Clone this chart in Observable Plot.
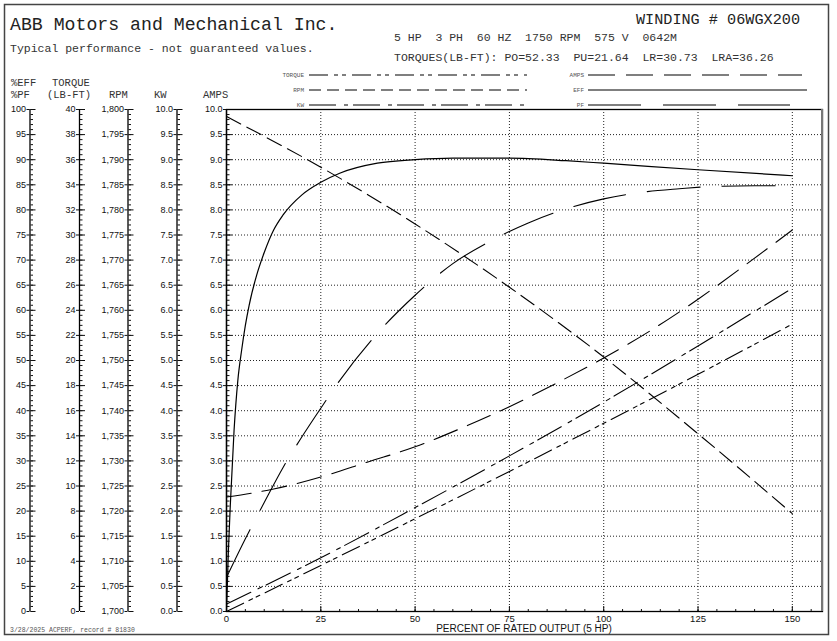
<!DOCTYPE html>
<html><head><meta charset="utf-8">
<script src="https://cdn.jsdelivr.net/npm/d3@7"></script>
<script src="https://cdn.jsdelivr.net/npm/@observablehq/plot@0.6"></script>
<style>
body{margin:0;background:#fff;}
#wrap{position:relative;width:837px;height:641px;overflow:hidden;background:#fff;}
#chart{position:absolute;left:0;top:0;}
#overlay{position:absolute;left:0;top:0;pointer-events:none;}
</style></head><body>
<div id="wrap"><div id="chart"></div><svg id="overlay" width="837" height="641"></svg></div>
<script>
// ---- data ----
const loads = [0, 25, 50, 75, 100, 125, 150];                  // % of rated output
const rpmValues = [1798.6, 1788.5, 1777.2, 1764.6, 1750.7, 1735.4, 1719.5];
const torqueValues = [0, 3.67, 7.39, 11.16, 15.0, 18.9, 22.9];   // LB-FT
const kwValues = [0.15, 1.07, 2.07, 3.1, 4.17, 5.29, 6.44];
const ampsLoads = [0, 12.5, 25, 37.5, 50, 62.5, 75, 87.5, 100, 112.5, 125, 137.5, 150];
const ampsValues = [2.28, 2.44, 2.68, 2.98, 3.28, 3.66, 4.08, 4.55, 5.05, 5.6, 6.22, 6.9, 7.6];
const effLoads = [0, 0.5, 1, 2, 3, 4, 5, 6, 8, 10, 12.5, 15, 20, 25, 30, 40, 50, 60, 75, 90, 100, 125, 150];
const effValues = [0, 12, 21, 36, 46, 52, 57, 61, 67, 71.5, 76, 79, 83, 85.5, 87.3, 89.3, 90, 90.3, 90.3, 89.8, 89.3, 88, 86.8];
const pfLoads = [0, 5, 10, 15, 20, 25, 30, 40, 50, 60, 70, 80, 90, 100, 110, 120, 130, 140, 150];
const pfValues = [6.8, 14.5, 21.7, 28.7, 34.8, 40.5, 46, 55.4, 63, 69.3, 73.8, 77.4, 80.2, 82.2, 83.5, 84.2, 84.7, 84.8, 84.8];

const xTicks = [0, 25, 50, 75, 100, 125, 150];
const titleText = "ABB Motors and Mechanical Inc.";
const subtitleText = "Typical performance - not guaranteed values.";
const windingText = "WINDING # 06WGX200";
const ratingText = "5 HP  3 PH  60 HZ  1750 RPM  575 V  0642M";
const torquesText = "TORQUES(LB-FT): PO=52.33  PU=21.64  LR=30.73  LRA=36.26";
const footerText = "3/28/2025 ACPERF, record # 81830";
const xLabel = "PERCENT OF RATED OUTPUT (5 HP)";
const legendLeft = ["TORQUE", "RPM", "KW"];
const legendRight = ["AMPS", "EFF", "PF"];

// ---- layout ----
const W = 837, H = 641, ML = 226, MR = 15, MT = 109, MB = 30;
const dash = {TORQUE: "19,6,4,4,4,6", RPM: "12,6", KW: "27,8,4,5", AMPS: "27,11", EFF: null, PF: "53,22"};
const plotDash = {...dash, RPM: "16,7", AMPS: "25,11"};

const zip = (xs, ys) => xs.map((x, i) => ({x, v: ys[i]}));
const yMajor = d3.range(0, 10.001, 0.5);
const yMinor = d3.range(0, 101, 1).map(d => d / 10);

function leftAxis(spine, fmt) {
  const dxL = spine - ML, dxR = spine - (W - MR);
  return [
    Plot.ruleX([0], {dx: dxL, stroke: "#000", strokeWidth: 1.3}),
    Plot.axisY({ticks: yMajor, anchor: "left", dx: dxL, tickSize: 3, tickPadding: 1, tickFormat: fmt, label: null, fontSize: 9, color: "#111"}),
    Plot.axisY({ticks: yMajor, anchor: "right", dx: dxR, tickSize: 5, tickFormat: () => "", label: null, color: "#111"}),
    Plot.axisY({ticks: yMinor, anchor: "right", dx: dxR, tickSize: 2.5, tickFormat: () => "", label: null, color: "#111"})
  ];
}
const comma = d3.format(",");

const chart = Plot.plot({
  width: W, height: H,
  marginLeft: ML, marginRight: MR, marginTop: MT, marginBottom: MB,
  style: {fontFamily: "'Liberation Sans', Arial, sans-serif", fontSize: "9px", background: "transparent", overflow: "visible"},
  x: {domain: [0, 158]},
  y: {domain: [0, 10]},
  marks: [
    Plot.gridY({ticks: d3.range(0.5, 10, 0.5), stroke: "#222", strokeOpacity: 1, strokeDasharray: "1,2"}),
    Plot.gridX({ticks: xTicks.slice(1), stroke: "#222", strokeOpacity: 1, strokeDasharray: "1,2"}),
    ...leftAxis(29.5, d => d * 10),
    ...leftAxis(79, d => d * 4),
    ...leftAxis(127.5, d => comma(1700 + d * 10)),
    ...leftAxis(176.5, d => d.toFixed(1)),
    ...leftAxis(ML, d => d.toFixed(1)),
    Plot.axisX({ticks: xTicks, anchor: "bottom", tickSize: 0, tickPadding: 4, label: null, fontSize: 9.5, color: "#111"}),
    Plot.axisX({ticks: d3.range(0, 156, 5), anchor: "top", dy: H - MB - MT, tickSize: 3, tickFormat: () => "", label: null, color: "#111"}),
    Plot.axisX({ticks: xTicks, anchor: "top", dy: H - MB - MT, tickSize: 6, tickFormat: () => "", label: null, color: "#111"}),
    Plot.frame({stroke: "#000", strokeWidth: 1.3}),
    Plot.line(zip(loads, rpmValues), {x: "x", y: d => (d.v - 1700) / 10, stroke: "#000", strokeWidth: 1.1, strokeDasharray: plotDash.RPM, curve: "monotone-x"}),
    Plot.line(zip(loads, torqueValues), {x: "x", y: d => d.v / 4, stroke: "#000", strokeWidth: 1.1, strokeDasharray: plotDash.TORQUE, curve: "monotone-x"}),
    Plot.line(zip(loads, kwValues), {x: "x", y: "v", stroke: "#000", strokeWidth: 1.1, strokeDasharray: plotDash.KW, curve: "monotone-x"}),
    Plot.line(zip(ampsLoads, ampsValues), {x: "x", y: "v", stroke: "#000", strokeWidth: 1.1, strokeDasharray: plotDash.AMPS, curve: "monotone-x"}),
    Plot.line(zip(pfLoads, pfValues), {x: "x", y: d => d.v / 10, stroke: "#000", strokeWidth: 1.1, strokeDasharray: plotDash.PF, curve: "monotone-x"}),
    Plot.line(zip(effLoads, effValues), {x: "x", y: d => d.v / 10, stroke: "#000", strokeWidth: 1.2, curve: "monotone-x"})
  ]
});
document.getElementById("chart").appendChild(chart);

// ---- overlay: titles, headers, legend, border ----
const ov = d3.select("#overlay");
ov.append("rect").attr("x", 4.5).attr("y", 4.5).attr("width", 824).attr("height", 630)
  .attr("fill", "none").attr("stroke", "#444").attr("stroke-width", 1.5);
ov.append("line").attr("x1", ML + (W - ML - MR)).attr("x2", ML + (W - ML - MR)).attr("y1", MT).attr("y2", H - MB)
  .attr("stroke", "#777").attr("stroke-width", 2);
const mono = "'Liberation Mono', 'Courier New', monospace";
function txt(s, x, y, size, anchor = "start", fill = "#222", family = mono) {
  ov.append("text").attr("x", x).attr("y", y).attr("font-family", family).attr("font-size", size)
    .attr("fill", fill).attr("text-anchor", anchor).attr("xml:space", "preserve").style("white-space", "pre").text(s);
}
txt(titleText, 10, 30, 18.2);
txt(subtitleText, 10, 52, 11.5, "start", "#333");
txt(windingText, 800, 24, 15.2, "end");
txt(ratingText, 394, 41, 11.5, "start", "#333");
txt(torquesText, 394, 61, 11.5, "start", "#333");
txt(footerText, 10, 632, 6.5, "start", "#555");
txt(xLabel, (ML + W - MR) / 2, 632, 10, "middle", "#111", "'Liberation Sans', Arial, sans-serif");
// column headers
txt("%EFF", 11, 86, 10.5, "start", "#333");
txt("TORQUE", 52, 86, 10.5, "start", "#333");
txt("%PF", 11, 98, 10.5, "start", "#333");
txt("(LB-FT)", 47, 98, 10.5, "start", "#333");
txt("RPM", 109, 98, 10.5, "start", "#333");
txt("KW", 154, 98, 10.5, "start", "#333");
txt("AMPS", 203, 98, 10.5, "start", "#333");
// legend
const legY = [75, 90, 105];
const legRightEnd = {AMPS: 802, EFF: 807, PF: 790};
legendLeft.forEach((k, i) => {
  txt(k, 304, legY[i] + 2, 6, "end", "#555");
  ov.append("line").attr("x1", 309).attr("x2", 527).attr("y1", legY[i]).attr("y2", legY[i])
    .attr("stroke", "#000").attr("stroke-width", 1.1).attr("stroke-dasharray", dash[k]);
});
legendRight.forEach((k, i) => {
  txt(k, 584, legY[i] + 2, 6, "end", "#555");
  ov.append("line").attr("x1", 588).attr("x2", legRightEnd[k]).attr("y1", legY[i]).attr("y2", legY[i])
    .attr("stroke", "#000").attr("stroke-width", 1.1).attr("stroke-dasharray", dash[k]);
});
</script>
</body></html>
